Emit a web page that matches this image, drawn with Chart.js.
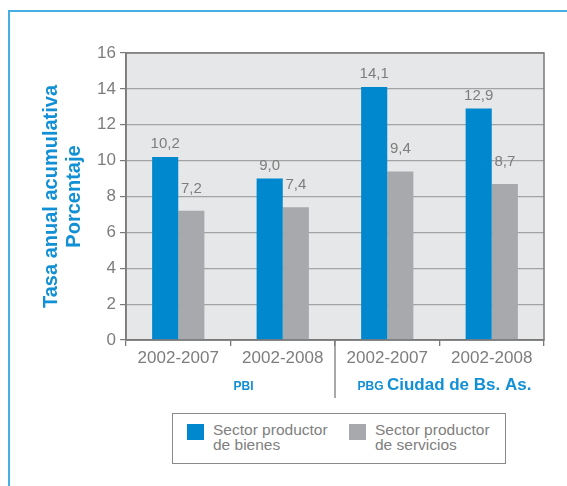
<!DOCTYPE html>
<html>
<head>
<meta charset="utf-8">
<script src="https://cdn.jsdelivr.net/npm/chart.js@4/dist/chart.umd.min.js"></script>
<style>
  html, body { margin: 0; padding: 0; background: #ffffff; }
  body { width: 567px; height: 486px; position: relative; overflow: hidden; font-family: "Liberation Sans", Arial, sans-serif; }
  #frame { position: absolute; left: 8px; top: 10px; width: 620px; height: 520px; border: 2px solid #45aee3; box-sizing: border-box; }
  #c { position: absolute; left: 0; top: 0; }
  #legend { position: absolute; left: 172px; top: 413px; width: 334px; height: 51px; border: 1.5px solid #8a8a8a; box-sizing: border-box; background: #fff; }
  .item { position: absolute; top: 9px; }
  .sw { position: absolute; top: 1px; width: 17px; height: 16px; }
  .lt { position: absolute; left: 26px; top: -1px; font-size: 15.5px; line-height: 15px; color: #808080; white-space: nowrap; }
</style>
</head>
<body>
<div id="frame"></div>
<canvas id="c" width="567" height="486"></canvas>
<div id="legend">
  <div class="item" style="left:14px"><div class="sw" style="background:#0088ce"></div><div class="lt">Sector productor<br>de bienes</div></div>
  <div class="item" style="left:176px"><div class="sw" style="background:#a7a9ac"></div><div class="lt">Sector productor<br>de servicios</div></div>
</div>
<script>
// ---- data ----
const categories = ["2002-2007", "2002-2008", "2002-2007", "2002-2008"];
const bienes = [10.2, 9.0, 14.1, 12.9];
const servicios = [7.2, 7.4, 9.4, 8.7];
const seriesNames = ["Sector productor de bienes", "Sector productor de servicios"];
const groupLabels = ["PBI", "PBG", "Ciudad de Bs. As."];
const yTitle = ["Tasa anual acumulativa", "Porcentaje"];

const BLUE = "#0088ce", GRAY = "#a7a9ac", TXT = "#7d7d7d", TITLE = "#1190d6";
const FONT = "'Liberation Sans', Arial, sans-serif";

const decor = {
  id: "decor",
  beforeDraw(chart) {
    const a = chart.chartArea, ctx = chart.ctx;
    ctx.save();
    ctx.fillStyle = "#e6e7e8";
    ctx.fillRect(a.left, a.top, a.right - a.left, a.bottom - a.top);
    ctx.restore();
  },
  afterDatasetsDraw(chart) {
    const ctx = chart.ctx, a = chart.chartArea;
    ctx.save();
    // data labels
    ctx.font = "15px " + FONT;
    ctx.fillStyle = TXT;
    ctx.textAlign = "center";
    ctx.textBaseline = "alphabetic";
    chart.data.datasets.forEach((ds, i) => {
      const gap = i === 0 ? 9 : 18;
      chart.getDatasetMeta(i).data.forEach((bar, j) => {
        ctx.fillText(ds.data[j].toFixed(1).replace(".", ","), bar.x, bar.y - gap);
      });
    });
    // plot frame
    ctx.strokeStyle = "#7a7a7a";
    ctx.lineWidth = 1.5;
    ctx.strokeRect(a.left, a.top, a.right - a.left, a.bottom - a.top);
    // separator between groups
    const x = chart.scales.x;
    const sepX = (x.getPixelForTick(1) + x.getPixelForTick(2)) / 2;
    ctx.lineWidth = 1.3;
    ctx.beginPath();
    ctx.moveTo(sepX, a.bottom);
    ctx.lineTo(sepX, 398);
    ctx.stroke();
    // group labels
    ctx.fillStyle = TITLE;
    ctx.textBaseline = "alphabetic";
    ctx.textAlign = "center";
    ctx.font = "bold 12px " + FONT;
    const g1 = (x.getPixelForTick(0) + x.getPixelForTick(1)) / 2 + 13;
    ctx.fillText(groupLabels[0], g1, 390);
    const g2 = (x.getPixelForTick(2) + x.getPixelForTick(3)) / 2 + 5;
    ctx.font = "bold 12px " + FONT;
    const w1 = ctx.measureText(groupLabels[1] + " ").width;
    ctx.font = "bold 17px " + FONT;
    const w2 = ctx.measureText(groupLabels[2]).width;
    const start = g2 - (w1 + w2) / 2;
    ctx.textAlign = "left";
    ctx.font = "bold 12px " + FONT;
    ctx.fillText(groupLabels[1], start, 390);
    ctx.font = "bold 17px " + FONT;
    ctx.fillText(groupLabels[2], start + w1, 390);
    ctx.restore();
  }
};

new Chart(document.getElementById("c"), {
  type: "bar",
  data: {
    labels: categories,
    datasets: [
      { label: seriesNames[0], data: bienes, backgroundColor: BLUE, categoryPercentage: 0.5, barPercentage: 1.0 },
      { label: seriesNames[1], data: servicios, backgroundColor: GRAY, categoryPercentage: 0.5, barPercentage: 1.0 }
    ]
  },
  options: {
    responsive: false,
    animation: false,
    devicePixelRatio: 1,
    layout: { padding: { left: 0, right: 23, top: 53, bottom: 0 } },
    plugins: { legend: { display: false }, tooltip: { enabled: false } },
    scales: {
      x: {
        offset: true,
        afterFit(s) { s.height = 146; },
        grid: { display: true, drawOnChartArea: false, drawTicks: true, tickLength: 6, color: "#7a7a7a", lineWidth: 1.3, offset: true },
        border: { display: true, color: "#7a7a7a", width: 1.5 },
        ticks: { color: TXT, font: { family: FONT, size: 17 }, padding: 2, maxRotation: 0 }
      },
      y: {
        min: 0, max: 16,
        afterFit(s) { s.width = 126; },
        ticks: { stepSize: 2, color: TXT, font: { family: FONT, size: 17 }, padding: 4 },
        grid: { color: "#a3a3a3", lineWidth: 1.2, tickLength: 6, tickColor: "#7a7a7a" },
        border: { display: true, color: "#7a7a7a", width: 1.5 },
        title: { display: true, text: yTitle, color: TITLE, font: { family: FONT, size: 20, weight: "bold", lineHeight: "23px" }, padding: { top: 40, bottom: 0 } }
      }
    }
  },
  plugins: [decor]
});
</script>
</body>
</html>
